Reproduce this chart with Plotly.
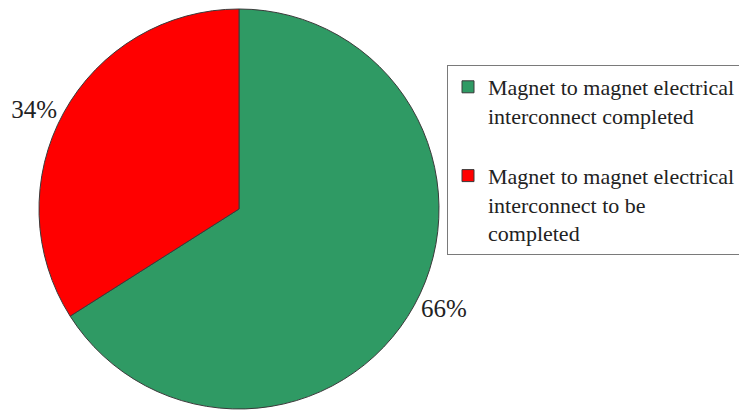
import plotly.graph_objects as go

labels = ["Magnet to magnet electrical<br>interconnect completed<br>&nbsp;",
          "Magnet to magnet electrical<br>interconnect to be<br>completed"]
values = [66, 34]
colors = ["#2f9a64", "#ff0000"]

W, H = 747, 410
OX, OY = 8, 8  # page offset
SERIF = "Times New Roman"
fig = go.Figure(go.Pie(
    labels=labels, values=values, sort=False, direction="clockwise", rotation=0,
    marker=dict(colors=colors, line=dict(color="#3a3a3a", width=1)),
    textinfo="percent", textposition="outside", texttemplate="%{percent:.0%}",
    textfont=dict(family=SERIF, size=25, color="#222"),
    domain=dict(x=[(38-OX)/W, (440-OX)/W], y=[(OY+1)/H, (OY+401)/H]),
    hoverinfo="skip",
))
fig.update_layout(
    width=W, height=H, margin=dict(l=0, r=0, t=0, b=0, autoexpand=False),
    paper_bgcolor="white", plot_bgcolor="white",
    legend=dict(x=(447-OX)/W, y=1-(65-OY)/H, xanchor="left", yanchor="top",
                bordercolor="#7a7a7a", borderwidth=1,
                font=dict(family=SERIF, size=22, color="#222"),
                valign="top", traceorder="normal"),
    showlegend=True,
)
fig.write_html("out.html")
